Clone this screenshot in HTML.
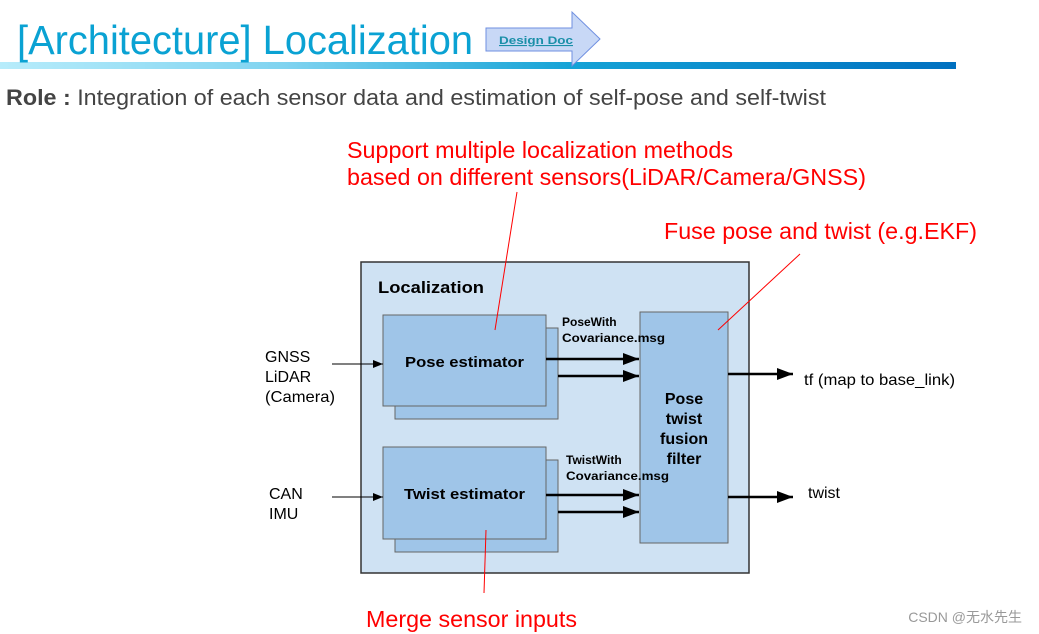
<!DOCTYPE html>
<html><head><meta charset="utf-8"><style>
html,body{margin:0;padding:0;background:#fff;}
svg{display:block;}
</style></head><body>
<svg width="1039" height="634" viewBox="0 0 1039 634" xmlns="http://www.w3.org/2000/svg" font-family="'Liberation Sans', Arial, sans-serif">
<defs>
<linearGradient id="g" x1="0" x2="1" y1="0" y2="0">
<stop offset="0" stop-color="#b7ecfb"/><stop offset="0.3" stop-color="#7fd3f0"/><stop offset="0.6" stop-color="#14a2d6"/><stop offset="1" stop-color="#0070c0"/>
</linearGradient>
<marker id="a" markerWidth="10" markerHeight="8" refX="10" refY="4" orient="auto" markerUnits="userSpaceOnUse"><path d="M0,0 L10,4 L0,8 z" fill="#000"/></marker>
<marker id="b" markerWidth="16" markerHeight="12" refX="16" refY="6" orient="auto" markerUnits="userSpaceOnUse"><path d="M0,0 L16,6 L0,12 z" fill="#000"/></marker>
</defs>
<rect x="0" y="62" width="956" height="7" fill="url(#g)"/>
<text x="17" y="54" font-size="41" fill="#0aa2d3" textLength="456" lengthAdjust="spacingAndGlyphs">[Architecture] Localization</text>
<path d="M486,28 L572,28 L572,12 L600,39 L572,66 L572,51 L486,51 z" fill="#c8d8f6" stroke="#6f8fe0" stroke-width="1"/>
<text x="499" y="44" font-size="11" font-weight="bold" fill="#1a8fa8" text-decoration="underline" textLength="74" lengthAdjust="spacingAndGlyphs">Design Doc</text>
<text x="6" y="105" font-size="22" fill="#444" textLength="820" lengthAdjust="spacingAndGlyphs"><tspan font-weight="bold">Role :</tspan> Integration of each sensor data and estimation of self-pose and self-twist</text>

<text x="347" y="158" font-size="23" fill="#f00" textLength="386" lengthAdjust="spacingAndGlyphs">Support multiple localization methods</text>
<text x="347" y="185" font-size="23" fill="#f00" textLength="519" lengthAdjust="spacingAndGlyphs">based on different sensors(LiDAR/Camera/GNSS)</text>
<text x="664" y="239" font-size="23" fill="#f00" textLength="313" lengthAdjust="spacingAndGlyphs">Fuse pose and twist (e.g.EKF)</text>
<text x="366" y="627" font-size="23" fill="#f00" textLength="211" lengthAdjust="spacingAndGlyphs">Merge sensor inputs</text>

<rect x="361" y="262" width="388" height="311" fill="#cfe2f3" stroke="#333" stroke-width="1.5"/>
<text x="378" y="293" font-size="17" font-weight="bold" textLength="106" lengthAdjust="spacingAndGlyphs">Localization</text>

<rect x="395" y="328" width="163" height="91" fill="#9fc5e8" stroke="#666" stroke-width="1"/>
<rect x="383" y="315" width="163" height="91" fill="#9fc5e8" stroke="#666" stroke-width="1"/>
<text x="405" y="367" font-size="15" font-weight="bold" textLength="119" lengthAdjust="spacingAndGlyphs">Pose estimator</text>
<rect x="395" y="460" width="163" height="92" fill="#9fc5e8" stroke="#666" stroke-width="1"/>
<rect x="383" y="447" width="163" height="92" fill="#9fc5e8" stroke="#666" stroke-width="1"/>
<text x="404" y="499" font-size="15" font-weight="bold" textLength="121" lengthAdjust="spacingAndGlyphs">Twist estimator</text>

<rect x="640" y="312" width="88" height="231" fill="#9fc5e8" stroke="#666" stroke-width="1"/>
<g font-size="16" font-weight="bold" text-anchor="middle">
<text x="684" y="404">Pose</text><text x="684" y="424">twist</text><text x="684" y="444">fusion</text><text x="684" y="464">filter</text>
</g>
<g font-size="12" font-weight="bold">
<text x="562" y="326">PoseWith</text><text x="562" y="342" textLength="103" lengthAdjust="spacingAndGlyphs">Covariance.msg</text>
<text x="566" y="464">TwistWith</text><text x="566" y="480" textLength="103" lengthAdjust="spacingAndGlyphs">Covariance.msg</text>
</g>
<g stroke="#000" stroke-width="2.5">
<line x1="546" y1="359" x2="639" y2="359" marker-end="url(#b)"/>
<line x1="558" y1="376" x2="639" y2="376" marker-end="url(#b)"/>
<line x1="546" y1="495" x2="639" y2="495" marker-end="url(#b)"/>
<line x1="558" y1="512" x2="639" y2="512" marker-end="url(#b)"/>
<line x1="728" y1="374" x2="793" y2="374" marker-end="url(#b)"/>
<line x1="728" y1="497" x2="793" y2="497" marker-end="url(#b)"/>
</g>
<g stroke="#000" stroke-width="1">
<line x1="332" y1="364" x2="383" y2="364" marker-end="url(#a)"/>
<line x1="332" y1="497" x2="383" y2="497" marker-end="url(#a)"/>
</g>
<g font-size="16">
<text x="265" y="362">GNSS</text><text x="265" y="382">LiDAR</text><text x="265" y="402" textLength="70" lengthAdjust="spacingAndGlyphs">(Camera)</text>
<text x="269" y="499">CAN</text><text x="269" y="519">IMU</text>
<text x="804" y="385" textLength="151" lengthAdjust="spacingAndGlyphs">tf (map to base_link)</text>
<text x="808" y="498">twist</text>
</g>
<g stroke="#f00" stroke-width="1">
<line x1="517" y1="192" x2="495" y2="330"/>
<line x1="800" y1="254" x2="718" y2="330"/>
<line x1="486" y1="530" x2="484" y2="593"/>
</g>
<text x="1022" y="622" font-size="14" fill="#999" text-anchor="end" font-family="'Liberation Sans', 'Noto Sans CJK SC', sans-serif">CSDN @无水先生</text>
</svg>
</body></html>
